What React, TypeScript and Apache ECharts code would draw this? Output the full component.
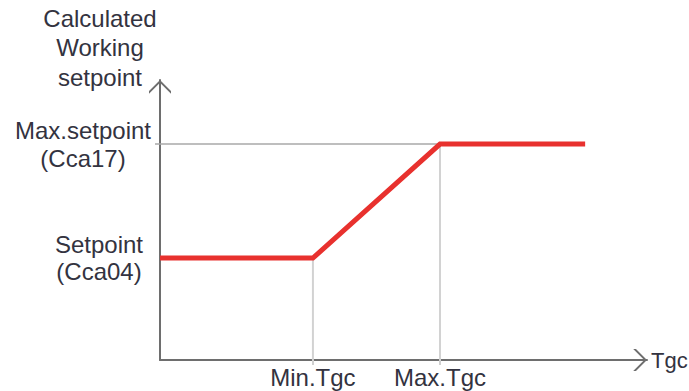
import React, { useEffect, useRef } from "react";
import * as echarts from "echarts";

// Data (axis units 0..100 on both axes)
const xPoints = [0, 31.4, 57.5, 87.3]; // start, Min.Tgc, Max.Tgc, end
const yPoints = [36.4, 36.4, 77.1, 77.1]; // working setpoint values
const minTgc = 31.4;
const maxTgc = 57.5;
const setpoint = 36.4;
const maxSetpoint = 77.1;
const xTickLabels = ["Min.Tgc", "Max.Tgc"];
const yTickLabels = ["Setpoint\n(Cca04)", "Max.setpoint\n(Cca17)"];
const xAxisName = "Tgc";
const yAxisName = "Calculated\nWorking\nsetpoint";

const FONT = "'Liberation Sans', Arial, sans-serif";
const TEXT = "#333340";
const AXIS = "#6e6e6e";
const ARROW = "path://M0,11 L11,0 L22,11 L22,13.8 L11,2.8 L0,13.8 Z";

export default function App() {
  const ref = useRef<HTMLDivElement>(null);
  useEffect(() => {
    if (!ref.current) return;
    const chart = echarts.init(ref.current, undefined, { renderer: "svg" });
    const redData = xPoints.map((x, i) => [x, yPoints[i]]);
    chart.setOption({
      animation: false,
      grid: { left: 160, right: 42, top: 80, bottom: 31, containLabel: false, outerBoundsMode: "none" },
      xAxis: {
        type: "value",
        min: 0,
        max: 100,
        splitLine: { show: false },
        name: xAxisName,
        nameLocation: "end",
        nameGap: 4,
        nameTextStyle: { fontFamily: FONT, fontSize: 22, color: TEXT, padding: [18, 0, 0, 0] },
        axisLine: {
          show: true,
          onZero: false,
          lineStyle: { color: AXIS, width: 2 },
          symbol: ["none", ARROW],
          symbolSize: [22, 13.8],
          symbolOffset: [0, -6.9],
        },
        axisTick: {
          show: true,
          length: 5,
          customValues: [minTgc, maxTgc],
          lineStyle: { color: "#cfcfcf", width: 2 },
        },
        axisLabel: {
          show: true,
          customValues: [minTgc, maxTgc],
          formatter: (v: number) => (Math.abs(v - minTgc) < 1e-6 ? xTickLabels[0] : xTickLabels[1]),
          fontFamily: FONT,
          fontSize: 24,
          lineHeight: 24,
          color: TEXT,
          margin: 5,
        },
      },
      yAxis: {
        type: "value",
        min: 0,
        max: 100,
        splitLine: { show: false },
        name: yAxisName,
        nameLocation: "end",
        nameGap: -12,
        nameTextStyle: {
          fontFamily: FONT,
          fontSize: 24,
          lineHeight: 29.5,
          color: TEXT,
          align: "center",
          padding: [0, 120, 0, 0],
        },
        axisLine: {
          show: true,
          onZero: false,
          lineStyle: { color: AXIS, width: 2 },
          symbol: ["none", ARROW],
          symbolSize: [22, 13.8],
          symbolOffset: [0, -6.9],
        },
        axisTick: {
          show: true,
          length: 5,
          customValues: [maxSetpoint],
          lineStyle: { color: "#a8a8a8", width: 1.5 },
        },
        axisLabel: {
          show: true,
          customValues: [setpoint, maxSetpoint],
          formatter: (v: number) => {
            if (Math.abs(v - setpoint) < 1e-6) {
              return yTickLabels[0].split("\n").map((s) => `{s|${s}}`).join("\n");
            }
            return yTickLabels[1].split("\n").map((s) => `{m|${s}}`).join("\n");
          },
          align: "center",
          margin: 61,
          fontFamily: FONT,
          fontSize: 24,
          color: TEXT,
          rich: {
            s: { fontFamily: FONT, fontSize: 24, lineHeight: 27, color: TEXT },
            m: { fontFamily: FONT, fontSize: 24, lineHeight: 28, color: TEXT, padding: [0, 32, 0, 0] },
          },
        },
      },
      series: [
        {
          type: "line",
          data: [[0, maxSetpoint], [maxTgc, maxSetpoint]],
          symbol: "none",
          lineStyle: { color: "#a8a8a8", width: 1.5 },
          silent: true,
          z: 1,
        },
        {
          type: "line",
          data: [[minTgc, 0], [minTgc, setpoint]],
          symbol: "none",
          lineStyle: { color: "#d2d2d2", width: 2 },
          silent: true,
          z: 1,
        },
        {
          type: "line",
          data: [[maxTgc, 0], [maxTgc, maxSetpoint]],
          symbol: "none",
          lineStyle: { color: "#d2d2d2", width: 2 },
          silent: true,
          z: 1,
        },
        {
          type: "line",
          data: redData,
          symbol: "none",
          lineStyle: { color: "#e8312e", width: 5, join: "miter" },
          silent: true,
          z: 3,
        },
      ],
    });
    return () => chart.dispose();
  }, []);
  return (
    <div
      ref={ref}
      style={{ position: "fixed", left: 0, top: 0, width: 689, height: 391, background: "#fff" }}
    />
  );
}
